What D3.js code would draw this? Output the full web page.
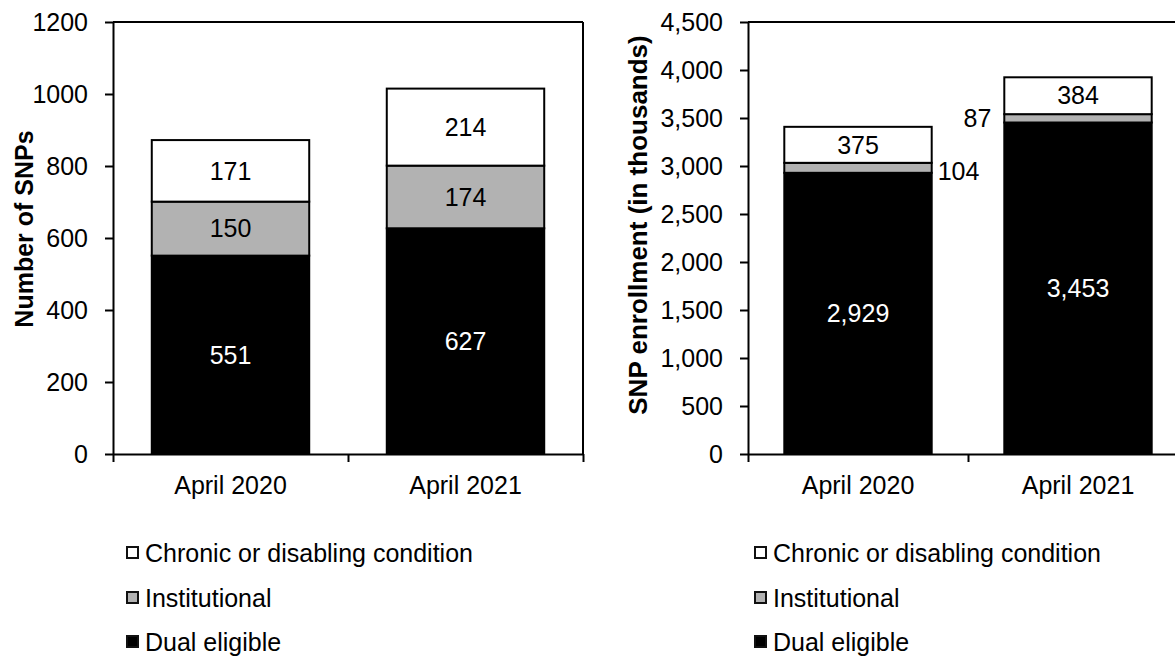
<!DOCTYPE html>
<html>
<head>
<meta charset="utf-8">
<script src="https://cdn.jsdelivr.net/npm/d3@7"></script>
<style>
  html, body { margin: 0; padding: 0; background: #fff; }
  svg { display: block; font-family: "Liberation Sans", Arial, sans-serif; }
</style>
</head>
<body>
<svg id="chart" width="1175" height="656"></svg>
<script>
// Special Needs Plans by type, April 2020 vs April 2021
const categories = ["April 2020", "April 2021"];
const legendNames = ["Chronic or disabling condition", "Institutional", "Dual eligible"];

// Number of SNPs
const countDual = [551, 627];
const countInstitutional = [150, 174];
const countChronic = [171, 214];
const countTicks = [0, 200, 400, 600, 800, 1000, 1200];

// SNP enrollment (in thousands)
const enrollDual = [2929, 3453];
const enrollInstitutional = [104, 87];
const enrollChronic = [375, 384];
const enrollTicks = [0, 500, 1000, 1500, 2000, 2500, 3000, 3500, 4000, 4500];

const fills = { dual: "#000000", inst: "#b2b2b2", chronic: "#ffffff" };
const svg = d3.select("#chart");

function drawPanel(opt) {
  const g = svg.append("g");
  const top = 22, bottom = 454;

  const x = d3.scaleBand().domain(categories)
    .range([opt.x0, opt.x1]).paddingInner(0.33).paddingOuter(0.165);
  const y = d3.scaleLinear().domain([0, opt.max]).range([bottom, top]);

  // stacked segments, bottom to top
  const layers = [
    { key: "dual", values: opt.dual },
    { key: "inst", values: opt.inst },
    { key: "chronic", values: opt.chronic }
  ];
  const rows = categories.map((c, i) => {
    let base = 0;
    return layers.map(l => {
      const seg = { cat: c, i, key: l.key, v: l.values[i], y0: base, y1: base + l.values[i] };
      base += l.values[i];
      return seg;
    });
  }).flat();

  g.selectAll("rect.seg").data(rows).join("rect")
    .attr("class", "seg")
    .attr("x", d => x(d.cat))
    .attr("width", x.bandwidth())
    .attr("y", d => y(d.y1))
    .attr("height", d => y(d.y0) - y(d.y1))
    .attr("fill", d => fills[d.key])
    .attr("stroke", "#000")
    .attr("stroke-width", 2);

  // value labels
  g.selectAll("text.val").data(rows).join("text")
    .attr("class", "val")
    .attr("font-size", 25)
    .attr("fill", d => d.key === "dual" ? "#fff" : "#000")
    .attr("dy", "0.35em")
    .each(function (d) {
      const t = d3.select(this);
      const cy = y((d.y0 + d.y1) / 2);
      const place = opt.outside && opt.outside[d.key] && opt.outside[d.key][d.i];
      if (place === "right") {
        t.attr("x", x(d.cat) + x.bandwidth() + 6).attr("y", cy + 3).attr("text-anchor", "start");
      } else if (place === "left") {
        t.attr("x", x(d.cat) - 13).attr("y", cy).attr("text-anchor", "end");
      } else {
        t.attr("x", x(d.cat) + x.bandwidth() / 2).attr("y", cy).attr("text-anchor", "middle");
      }
    })
    .text(d => opt.fmt(d.v));

  // frame: top and right edges
  g.append("line").attr("x1", opt.x0).attr("x2", opt.x1).attr("y1", top).attr("y2", top)
    .attr("stroke", "#000").attr("stroke-width", 2);
  g.append("line").attr("x1", opt.x1).attr("x2", opt.x1).attr("y1", top).attr("y2", bottom)
    .attr("stroke", "#000").attr("stroke-width", 2);

  // y axis
  const yAxis = g.append("g").attr("transform", `translate(${opt.x0},0)`)
    .call(d3.axisLeft(y).tickValues(opt.ticks).tickFormat(opt.fmt)
      .tickSize(8).tickSizeOuter(0).tickPadding(17));
  yAxis.select(".domain").attr("stroke-width", 2).attr("stroke", "#000");
  yAxis.selectAll(".tick line").attr("stroke-width", 2).attr("stroke", "#000");
  yAxis.selectAll(".tick text").attr("font-size", 25).attr("fill", "#000")
    .attr("font-family", "Liberation Sans, Arial, sans-serif");

  // x baseline with category-boundary ticks
  const xb = d3.scaleLinear().domain([0, categories.length]).range([opt.x0, opt.x1]);
  const xTicks = g.append("g").attr("transform", `translate(0,${bottom})`)
    .call(d3.axisBottom(xb).tickValues(d3.range(categories.length + 1))
      .tickFormat("").tickSize(8).tickSizeOuter(0));
  xTicks.select(".domain").attr("stroke-width", 2).attr("stroke", "#000");
  xTicks.selectAll(".tick line").attr("stroke-width", 2).attr("stroke", "#000");

  // category labels
  const xLab = g.append("g").attr("transform", `translate(0,${bottom})`)
    .call(d3.axisBottom(x).tickSize(0).tickPadding(22));
  xLab.select(".domain").remove();
  xLab.selectAll(".tick text").attr("font-size", 25).attr("fill", "#000")
    .attr("font-family", "Liberation Sans, Arial, sans-serif");

  // axis title
  g.append("text")
    .attr("transform", `translate(${opt.titleX},${opt.titleY}) rotate(-90)`)
    .attr("text-anchor", "middle")
    .attr("font-size", opt.titleSize)
    .attr("font-weight", "bold")
    .text(opt.title);

  // legend
  const lg = g.append("g").attr("transform", `translate(${opt.legendX},0)`);
  const legendFill = [fills.chronic, fills.inst, fills.dual];
  const legendY = [562, 607, 651];
  legendNames.forEach((name, k) => {
    lg.append("rect").attr("x", 2).attr("y", legendY[k] - 15).attr("width", 11).attr("height", 11)
      .attr("fill", legendFill[k]).attr("stroke", "#111").attr("stroke-width", 2);
    lg.append("text").attr("x", 20).attr("y", legendY[k])
      .attr("font-size", 25).attr("fill", "#000").text(name);
  });
}

drawPanel({
  x0: 113, x1: 583, max: 1200, ticks: countTicks,
  dual: countDual, inst: countInstitutional, chronic: countChronic,
  fmt: d3.format("d"),
  title: "Number of SNPs", titleX: 33, titleY: 229, titleSize: 25,
  legendX: 125
});

drawPanel({
  x0: 748, x1: 1188, max: 4500, ticks: enrollTicks,
  dual: enrollDual, inst: enrollInstitutional, chronic: enrollChronic,
  fmt: d3.format(","),
  outside: { inst: ["right", "left"] },
  title: "SNP enrollment (in thousands)", titleX: 647, titleY: 225, titleSize: 26,
  legendX: 753
});
</script>
</body>
</html>
